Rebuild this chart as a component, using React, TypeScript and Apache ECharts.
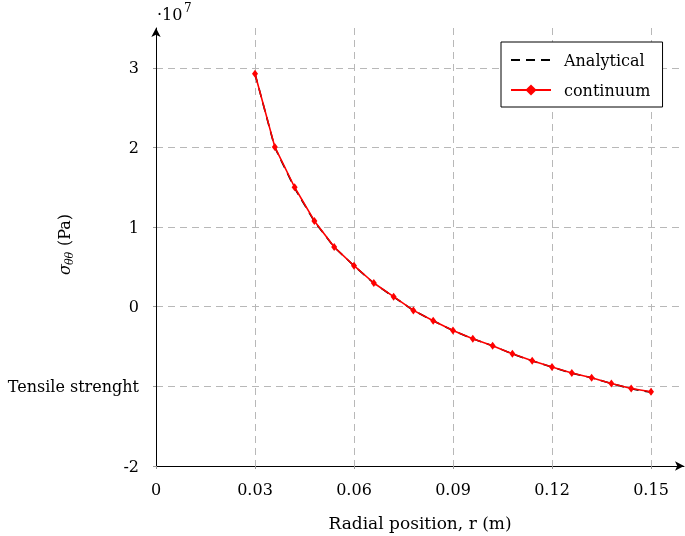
import React, { useEffect, useRef } from "react";
import * as echarts from "echarts";

const radius = [0.03, 0.036, 0.042, 0.048, 0.054, 0.06, 0.066, 0.072, 0.078, 0.084, 0.09, 0.096, 0.102, 0.108, 0.114, 0.12, 0.126, 0.132, 0.138, 0.144, 0.15];
const continuum = [2.925, 2.007, 1.5, 1.077, 0.75, 0.515, 0.298, 0.126, -0.046, -0.176, -0.298, -0.402, -0.49, -0.591, -0.679, -0.758, -0.833, -0.892, -0.964, -1.027, -1.068];
const analytical = [2.925, 2.0, 1.49, 1.07, 0.748, 0.513, 0.296, 0.124, -0.047, -0.177, -0.299, -0.403, -0.491, -0.592, -0.68, -0.759, -0.834, -0.893, -0.965, -1.03, -1.075];
const xTicks = [0, 0.03, 0.06, 0.09, 0.12, 0.15];
const yTickLabels: Record<string, string> = { "-2": "-2", "-1": "Tensile strenght", "0": "0", "1": "1", "2": "2", "3": "3" };

const FONT = "DejaVu Serif";

export default function App() {
  const ref = useRef<HTMLDivElement>(null);
  useEffect(() => {
    const chart = echarts.init(ref.current!, undefined, { renderer: "svg" });
    const gridLine = { show: true, showMaxLine: false, lineStyle: { color: "#b8b8b8", type: [7, 5], width: 1 } };
    chart.setOption({
      animation: false,
      grid: { left: 156, top: 28, width: 528, height: 438, containLabel: false },
      legend: {
        left: 501,
        top: 42,
        orient: "vertical",
        backgroundColor: "#fff",
        borderColor: "#000",
        borderWidth: 1,
        borderRadius: 0,
        padding: [10, 12, 9, 9],
        itemWidth: 40,
        itemHeight: 14,
        itemGap: 14,
        textStyle: { fontFamily: FONT, fontSize: 16, color: "#000", padding: [0, 0, 0, 8] },
        data: [
          { name: "Analytical", itemStyle: { opacity: 0 } },
          { name: "continuum" },
        ],
      },
      xAxis: {
        type: "value",
        min: 0,
        max: 0.16,
        interval: 0.03,
        axisLine: { show: true, onZero: false, lineStyle: { color: "#000", width: 1 }, symbol: ["none", "arrow"], symbolSize: [7, 9] },
        axisTick: { show: true, length: 3, lineStyle: { color: "#999" } },
        axisLabel: {
          showMaxLabel: false,
          margin: 15,
          fontFamily: FONT,
          fontSize: 16,
          color: "#000",
          formatter: (v: number) => (xTicks.some((t) => Math.abs(t - v) < 1e-9) ? String(Number(v.toFixed(2))) : ""),
        },
        splitLine: gridLine,
      },
      yAxis: {
        type: "value",
        min: -2,
        max: 3.5,
        interval: 1,
        axisLine: { show: true, onZero: false, lineStyle: { color: "#000", width: 1 }, symbol: ["none", "arrow"], symbolSize: [7, 9] },
        axisTick: { show: true, length: 3, lineStyle: { color: "#999" } },
        axisLabel: {
          showMaxLabel: false,
          margin: 17,
          fontFamily: FONT,
          fontSize: 16,
          color: "#000",
          formatter: (v: number) => yTickLabels[String(Math.round(v))] && Math.abs(v - Math.round(v)) < 1e-9 ? yTickLabels[String(Math.round(v))] : "",
        },
        splitLine: gridLine,
      },
      series: [
        {
          name: "Analytical",
          type: "line",
          data: radius.map((r, i) => [r, analytical[i]]),
          symbol: "none",
          lineStyle: { color: "#000", width: 1.6, type: [9, 6] },
          itemStyle: { color: "#000" },
          z: 2,
        },
        {
          name: "continuum",
          type: "line",
          data: radius.map((r, i) => [r, continuum[i]]),
          symbol: "diamond",
          symbolSize: [6, 8],
          lineStyle: { color: "#ff0000", width: 1.6 },
          itemStyle: { color: "#ff0000" },
          z: 3,
        },
      ],
      graphic: [
        { type: "text", left: 157, top: 6, style: { text: "·10", fontFamily: FONT, fontSize: 16, fill: "#000" } },
        { type: "text", left: 184, top: 2, style: { text: "7", fontFamily: FONT, fontSize: 12, fill: "#000" } },
        {
          type: "group",
          x: 64,
          y: 243,
          rotation: Math.PI / 2,
          children: [
            { type: "text", x: -32, y: 0, style: { text: "σ", fontFamily: FONT, fontStyle: "italic", fontSize: 16, fill: "#000", verticalAlign: "middle", align: "left" } },
            { type: "text", x: -22, y: 5, style: { text: "θθ", fontFamily: FONT, fontStyle: "italic", fontSize: 11, fill: "#000", verticalAlign: "middle", align: "left" } },
            { type: "text", x: -3, y: 0, style: { text: "(Pa)", fontFamily: FONT, fontSize: 16, fill: "#000", verticalAlign: "middle", align: "left" } },
          ],
        },
        { type: "text", x: 420, y: 523, style: { text: "Radial position, r (m)", fontFamily: FONT, fontSize: 17, fill: "#000", align: "center", verticalAlign: "middle" } },
      ],
    });
    return () => chart.dispose();
  }, []);
  return <div ref={ref} style={{ position: "fixed", left: 0, top: 0, width: 685, height: 536 }} />;
}
